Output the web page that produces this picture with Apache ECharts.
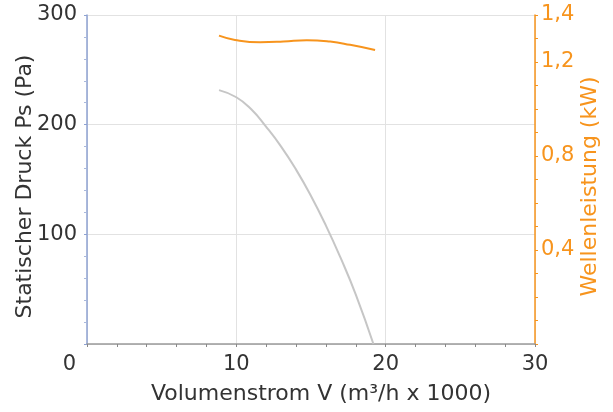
<!DOCTYPE html>
<html>
<head>
<meta charset="utf-8">
<script src="https://cdn.jsdelivr.net/npm/echarts@6/dist/echarts.min.js"></script>
<style>html,body{margin:0;padding:0;background:#fff}#c{width:613px;height:412px}</style>
</head>
<body>
<div id="c"></div>
<script>
// Data
const pressureFlow = [8.84, 10, 11, 12, 13, 14, 15, 16, 17, 18, 19.18];
const pressureValues = [231.5, 225, 214, 198, 180, 159, 135, 108, 78, 45, 0];
const powerFlow = [8.84, 9.91, 11.59, 13.15, 14.72, 16.28, 17.62, 19.29];
const powerValues = [1.312, 1.294, 1.284, 1.287, 1.293, 1.287, 1.273, 1.251];
const xTicks = [0, 10, 20, 30];
const leftTicks = [100, 200, 300];
const rightLabels = ['0,4', '0,8', '1,2', '1,4'];

const FONT = 'DejaVu Sans';
const ORANGE = '#F7941D';
const TEXT = '#333333';

const chart = echarts.init(document.getElementById('c'), null, {renderer: 'canvas'});
chart.setOption({
  animation: false,
  backgroundColor: '#ffffff',
  grid: {left: 87, right: 78, top: 15, bottom: 68, containLabel: false, outerBoundsMode: 'none'},
  xAxis: {
    type: 'value', min: 0, max: 30, interval: 10,
    name: 'Volumenstrom V (m³/h x 1000)', nameLocation: 'middle', nameGap: 39, nameMoveOverlap: false,
    nameTextStyle: {fontFamily: FONT, fontSize: 22, color: TEXT, padding: [0, 0, 0, 20]},
    axisLine: {show: true, lineStyle: {color: '#9a9a9a', width: 1.5}},
    axisTick: {show: true, length: 3, lineStyle: {color: '#888'}},
    minorTick: {show: true, splitNumber: 5, length: 3, lineStyle: {color: '#888'}},
    splitLine: {show: true, lineStyle: {color: '#e2e2e2', width: 1}},
    axisLabel: {
      fontFamily: FONT, fontSize: 21, color: TEXT, margin: 10,
      formatter: function (v) {
        const label = xTicks.indexOf(v) >= 0 ? String(v) : '';
        return v === 0 ? '{z|' + label + '}' : label;
      },
      rich: {z: {fontFamily: FONT, fontSize: 21, color: TEXT, padding: [0, 35, 0, 0]}}
    }
  },
  yAxis: [{
    type: 'value', min: 0, max: 300, interval: 100, position: 'left',
    name: 'Statischer Druck Ps (Pa)', nameLocation: 'middle', nameGap: 51, nameMoveOverlap: false,
    nameTextStyle: {fontFamily: FONT, fontSize: 22, color: TEXT, padding: [0, 14, 0, 0]},
    axisLine: {show: true, lineStyle: {color: '#8ea2d2', width: 1.5}},
    axisTick: {show: true, length: 3, lineStyle: {color: '#8ea2d2'}},
    minorTick: {show: true, splitNumber: 5, length: 3, lineStyle: {color: '#a9b8dc'}},
    splitLine: {show: true, lineStyle: {color: '#e2e2e2', width: 1}},
    axisLabel: {
      fontFamily: FONT, fontSize: 21, color: TEXT, margin: 10,
      formatter: function (v) { return leftTicks.indexOf(v) >= 0 ? String(v) : ''; }
    }
  }, {
    type: 'value', min: 0, max: 1.4, interval: 0.2, position: 'right',
    name: 'Wellenleistung (kW)', nameLocation: 'middle', nameGap: 44, nameMoveOverlap: false,
    nameTextStyle: {fontFamily: FONT, fontSize: 22, color: ORANGE, padding: [0, 14, 0, 0]},
    axisLine: {show: true, lineStyle: {color: ORANGE, width: 1.5}},
    axisTick: {show: true, length: 3, lineStyle: {color: ORANGE}},
    minorTick: {show: true, splitNumber: 2, length: 3, lineStyle: {color: ORANGE}},
    splitLine: {show: false},
    axisLabel: {
      fontFamily: FONT, fontSize: 21, color: ORANGE, margin: 6,
      formatter: function (v) {
        const s = (Math.round(v * 10) / 10).toFixed(1).replace('.', ',');
        return rightLabels.indexOf(s) >= 0 ? s : '';
      }
    }
  }],
  series: [{
    type: 'line', yAxisIndex: 0, smooth: true, showSymbol: false,
    lineStyle: {color: '#c6c6c6', width: 2},
    data: pressureFlow.map((x, i) => [x, pressureValues[i]])
  }, {
    type: 'line', yAxisIndex: 1, smooth: true, showSymbol: false,
    lineStyle: {color: ORANGE, width: 2},
    data: powerFlow.map((x, i) => [x, powerValues[i]])
  }]
});
</script>
</body>
</html>
